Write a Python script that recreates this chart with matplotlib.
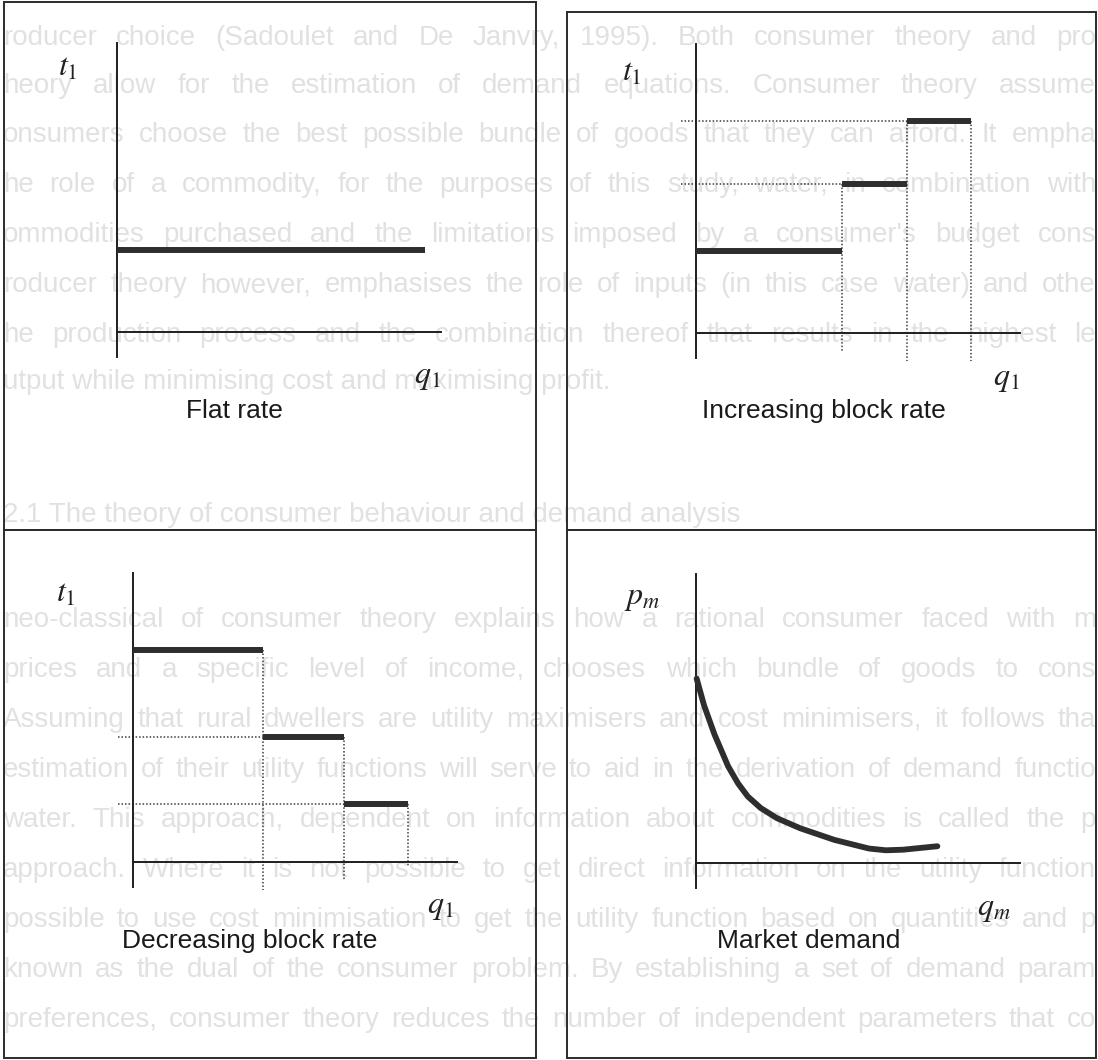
# four tariff diagrams (flat / increasing / decreasing block rate, market demand)
# drawn over the faint bleed-through text of the scanned page

import matplotlib.pyplot as plt
from matplotlib.patches import Rectangle

plt.rcParams['mathtext.fontset'] = 'stix'
plt.rcParams['font.family'] = ['Liberation Sans', 'DejaVu Sans']

## data (schematic units, origin where the two axes meet)
Q_MAX = 10.0
T_MAX = 10.0
AXIS_DROP = -0.85          # y axis runs a bit below the q axis

FLAT_Q = [0.0, 9.5]
FLAT_T = 2.84

INC_BREAKS = [0.0, 4.5, 6.5, 8.5]
INC_RATES = [2.84, 5.17, 7.34]
INC_GUIDE_END = [-0.64, -0.97, -0.97]

DEC_BREAKS = [0.0, 4.0, 6.5, 8.5]
DEC_RATES = [7.34, 4.33, 1.99]
DEC_GUIDE_END = [-0.97, -0.62, -0.14]

GUIDE_START = -0.45

DEMAND_Q = [0.02, 0.25, 0.57, 0.99, 1.30, 1.60, 2.00, 2.50, 3.22, 4.27, 5.34, 5.86, 6.39, 7.45]
DEMAND_P = [6.38, 5.45, 4.45, 3.35, 2.75, 2.30, 1.90, 1.55, 1.20, 0.80, 0.50, 0.44, 0.46, 0.58]

TITLES = ['Flat rate', 'Increasing block rate', 'Decreasing block rate', 'Market demand']
Y_LABELS = [r'$t_1$', r'$t_1$', r'$t_1$', r'$p_m$']
X_LABELS = [r'$q_1$', r'$q_1$', r'$q_1$', r'$q_m$']

# where labels sit, in data units of each panel
Y_LABEL_POS = [(-1.51, 9.13), (-1.98, 9.0), (-2.07, 9.27), (-1.67, 9.17)]
X_LABEL_POS = [(9.57, -1.56), (9.57, -1.59), (9.5, -1.56), (9.2, -1.59)]
TITLE_POS = [(3.64, -2.73), (3.95, -2.7), (3.61, -2.73), (3.49, -2.7)]

# faint text of the page behind the figure (as much as shows on the scan)
PAGE_LINES = [
    "roducer choice (Sadoulet and De Janvry, 1995).   Both consumer theory and pro",
    "heory allow for the estimation of demand equations.  Consumer theory assume",
    "onsumers choose the best possible bundle of goods that they can afford.  It empha",
    "he role of a commodity, for the purposes of this study, water, in combination with",
    "ommodities purchased and the limitations imposed by a consumer's budget cons",
    "roducer theory however, emphasises the role of inputs (in this case water) and othe",
    "he production process and the combination thereof that results in the highest le",
    "utput while minimising cost and maximising profit.",
    "2.1 The theory of consumer behaviour and demand analysis",
    "neo-classical of consumer theory explains how a rational consumer faced with m",
    "prices and a specific level of income, chooses which bundle of goods to cons",
    "Assuming that rural dwellers are utility maximisers and cost minimisers, it follows tha",
    "estimation of their utility functions will serve to aid in the derivation of demand functio",
    "water.  This approach, dependent on information about commodities is called the p",
    "approach.  Where it is not possible to get direct information on the utility function",
    "possible to use cost minimisation to get the utility function based on quantities and p",
    "known as the dual of the consumer problem.  By establishing a set of demand param",
    "preferences, consumer theory reduces the number of independent parameters that co",
]
PAGE_LINE_Y = [38, 86, 135, 185, 235, 285, 335, 382, 515, 620, 670, 720, 770, 820, 870, 920, 970, 1020]
PAGE_JUSTIFIED = [True] * 7 + [False, False] + [True] * 9

## layout (pixels)
W, H = 1098, 1060
PX_Q = 32.4
PX_T = 28.9
PANELS = [(4, 2, 536, 530), (567, 12, 1096, 530), (4, 530, 536, 1058), (567, 530, 1096, 1058)]
ORIGINS = [(117, 332), (696, 333), (133, 862), (696, 863)]
TEXT_LEFT, TEXT_RIGHT = 3, 1096
PAGE_FS = 20
PAGE_C = '#e1e1e1'

AXIS_C = '#1e1e1e'
STEP_C = '#2e2e2e'
DOT_C = '#3c3c3c'
DOTTED = dict(color=DOT_C, lw=1.1, ls=(0, (1, 1.3)), zorder=2)

fig = plt.figure(figsize=(W / 100, H / 100), dpi=100)
fig.patch.set_facecolor('white')
renderer = fig.canvas.get_renderer()


def word_width(word):
    t = fig.text(0, 0, word, fontsize=PAGE_FS)
    wd = t.get_window_extent(renderer).width
    t.remove()
    return wd


# page text, justified like the printed page
for txt, y, just in zip(PAGE_LINES, PAGE_LINE_Y, PAGE_JUSTIFIED):
    yf = 1 - y / H
    if not just:
        fig.text(TEXT_LEFT / W, yf, txt, fontsize=PAGE_FS, color=PAGE_C,
                 ha='left', va='center', zorder=-5)
        continue
    words = txt.split()
    widths = [word_width(w) for w in words]
    gap = (TEXT_RIGHT - TEXT_LEFT - sum(widths)) / (len(words) - 1)
    x = TEXT_LEFT
    for w, wd in zip(words, widths):
        fig.text(x / W, yf, w, fontsize=PAGE_FS, color=PAGE_C,
                 ha='left', va='center', zorder=-5)
        x += wd + gap


def make_panel(box, origin):
    L, T, R, B = box
    ox, oy = origin
    rect = [L / W, 1 - B / H, (R - L) / W, (B - T) / H]
    fig.add_artist(Rectangle((rect[0], rect[1]), rect[2], rect[3],
                             transform=fig.transFigure, fill=False,
                             lw=1.4, edgecolor='#2b2b2b', zorder=1))
    ax = fig.add_axes(rect)
    ax.set_xlim((L - ox) / PX_Q, (R - ox) / PX_Q)
    ax.set_ylim((oy - B) / PX_T, (oy - T) / PX_T)
    ax.patch.set_alpha(0)
    ax.set_xticks([])
    ax.set_yticks([])
    ax.spines['top'].set_visible(False)
    ax.spines['right'].set_visible(False)
    ax.spines['left'].set_position(('data', 0))
    ax.spines['left'].set_bounds(AXIS_DROP, T_MAX)
    ax.spines['bottom'].set_position(('data', 0))
    ax.spines['bottom'].set_bounds(0, Q_MAX)
    for s in ('left', 'bottom'):
        ax.spines[s].set_linewidth(1.4)
        ax.spines[s].set_color(AXIS_C)
    return ax


def draw_blocks(ax, breaks, rates, guide_end):
    for i, r in enumerate(rates):
        ax.plot([breaks[i], breaks[i + 1]], [r, r], lw=4.3, color=STEP_C,
                solid_capstyle='butt', zorder=3)
    for i in range(1, len(rates)):
        ax.plot([GUIDE_START, breaks[i]], [rates[i], rates[i]], **DOTTED)
    for i in range(1, len(breaks)):
        top = max(rates[i - 1:i + 1])
        ax.plot([breaks[i], breaks[i]], [top, guide_end[i - 1]], **DOTTED)


axes = [make_panel(b, o) for b, o in zip(PANELS, ORIGINS)]

# flat rate
axes[0].plot(FLAT_Q, [FLAT_T, FLAT_T], lw=4.3, color=STEP_C, solid_capstyle='butt', zorder=3)
# block rates
draw_blocks(axes[1], INC_BREAKS, INC_RATES, INC_GUIDE_END)
draw_blocks(axes[2], DEC_BREAKS, DEC_RATES, DEC_GUIDE_END)
# market demand
axes[3].plot(DEMAND_Q, DEMAND_P, lw=4.2, color=STEP_C, solid_capstyle='round',
             solid_joinstyle='round', zorder=3)

for ax, yl, xl, title, yp, xp, tp in zip(axes, Y_LABELS, X_LABELS, TITLES,
                                         Y_LABEL_POS, X_LABEL_POS, TITLE_POS):
    ax.text(yp[0], yp[1], yl, fontsize=23, color='#222222', ha='center', va='center')
    ax.text(xp[0], xp[1], xl, fontsize=23, color='#222222', ha='center', va='center')
    ax.text(tp[0], tp[1], title, fontsize=19, color='#1a1a1a', ha='center', va='center')

fig.savefig('out.png', dpi=100)
